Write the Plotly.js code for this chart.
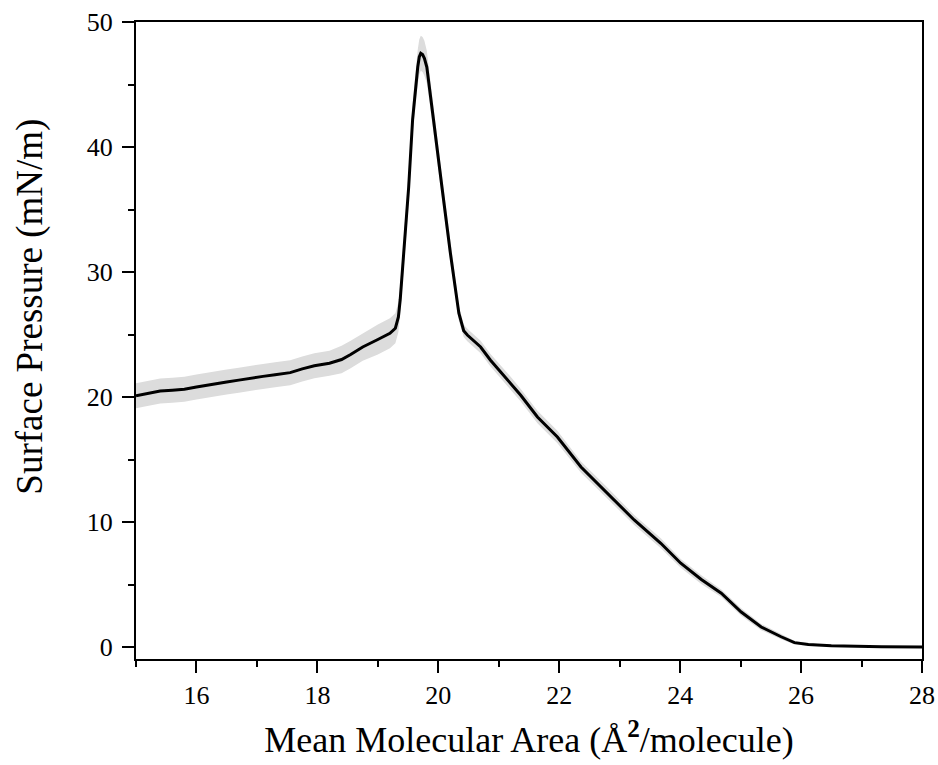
<!DOCTYPE html>
<html>
<head>
<meta charset="utf-8">
<script src="https://cdn.plot.ly/plotly-3.0.1.min.js"></script>
<style>html,body{margin:0;padding:0;background:#fff;}#chart{width:938px;height:765px;}</style>
</head>
<body>
<div id="chart"></div>
<script>
// Mean molecular area (Å²/molecule)
var area = [15.00, 15.20, 15.40, 15.60, 15.80, 16.00, 16.20, 16.50, 16.70, 16.90,
            17.10, 17.30, 17.55, 17.75, 17.95, 18.20, 18.40, 18.55, 18.75, 19.00,
            19.20, 19.29, 19.34, 19.37, 19.43, 19.51, 19.575, 19.62, 19.66, 19.685,
            19.71, 19.74, 19.77, 19.81, 19.86, 19.92, 20.06, 20.20, 20.34, 20.42,
            20.48, 20.70, 20.86, 21.20, 21.36, 21.64, 21.97, 22.36, 22.80, 23.24,
            23.68, 24.01, 24.35, 24.68, 25.01, 25.34, 25.67, 25.89, 26.12, 26.50,
            27.33, 28.00];
// Surface pressure (mN/m), mean curve
var pressure = [20.10, 20.30, 20.48, 20.55, 20.62, 20.80, 20.98, 21.20, 21.35, 21.52,
                21.65, 21.78, 21.95, 22.25, 22.50, 22.70, 23.00, 23.40, 24.00, 24.60,
                25.10, 25.50, 26.40, 27.80, 31.50, 36.80, 42.20, 44.80, 46.40, 47.20,
                47.50, 47.40, 47.10, 46.40, 44.60, 42.20, 36.80, 31.50, 26.70, 25.30,
                24.96, 24.00, 22.96, 21.10, 20.16, 18.40, 16.80, 14.40, 12.30, 10.16,
                8.30, 6.70, 5.40, 4.30, 2.80, 1.60, 0.82, 0.35, 0.20, 0.10,
                0.03, 0.00];
// Standard deviation (mN/m)
var pressureErr = [1.0, 1.0, 1.0, 1.0, 1.0, 1.0, 1.0, 1.0, 1.0, 1.0,
                   1.0, 1.0, 1.0, 1.0, 1.0, 1.0, 1.1, 1.1, 1.1, 1.2,
                   1.2, 1.2, 1.2, 1.2, 1.3, 1.3, 1.3, 1.3, 1.4, 1.4,
                   1.4, 1.4, 1.4, 1.3, 1.2, 1.0, 0.9, 0.8, 0.6, 0.5,
                   0.5, 0.5, 0.5, 0.5, 0.5, 0.5, 0.5, 0.45, 0.45, 0.4,
                   0.4, 0.35, 0.35, 0.3, 0.3, 0.25, 0.2, 0.15, 0.1, 0.05,
                   0.03, 0.02];

var xTitle = 'Mean Molecular Area (Å<sup><b>2</b></sup>/molecule)';
var yTitle = 'Surface Pressure (mN/m)';

var upper = pressure.map(function(v, i){ return v + pressureErr[i]; });
var lower = pressure.map(function(v, i){ return v - pressureErr[i]; });

var serif = '"Liberation Serif", "Times New Roman", serif';

var traces = [
  {x: area, y: lower, mode: 'lines', line: {width: 0, color: 'rgba(0,0,0,0)'},
   hoverinfo: 'skip', showlegend: false},
  {x: area, y: upper, mode: 'lines', line: {width: 0, color: 'rgba(0,0,0,0)'},
   fill: 'tonexty', fillcolor: '#dcdcdc', hoverinfo: 'skip', showlegend: false},
  {x: area, y: pressure, mode: 'lines', line: {color: '#000000', width: 3},
   showlegend: false}
];

var layout = {
  width: 938, height: 765,
  margin: {l: 136, r: 16, t: 22, b: 106},
  paper_bgcolor: '#ffffff', plot_bgcolor: '#ffffff',
  showlegend: false,
  font: {family: serif, color: '#000000', size: 26},
  xaxis: {
    range: [15, 28], dtick: 2, tick0: 16,
    ticks: 'outside', ticklen: 12, tickwidth: 2, tickcolor: '#000',
    showline: true, linewidth: 2, linecolor: '#000', mirror: true,
    showgrid: false, zeroline: false,
    tickfont: {family: serif, size: 26, color: '#000'},
    minor: {dtick: 1, ticks: 'outside', ticklen: 6, tickwidth: 2, tickcolor: '#000', showgrid: false},
    title: {text: xTitle, font: {family: serif, size: 36, color: '#000'}, standoff: 18}
  },
  yaxis: {
    range: [-0.96, 50], dtick: 10, tick0: 0,
    ticks: 'outside', ticklen: 12, tickwidth: 2, tickcolor: '#000',
    showline: true, linewidth: 2, linecolor: '#000', mirror: true,
    showgrid: false, zeroline: false,
    tickfont: {family: serif, size: 26, color: '#000'},
    ticklabelstandoff: 4,
    minor: {dtick: 5, ticks: 'outside', ticklen: 6, tickwidth: 2, tickcolor: '#000', showgrid: false}
  },
  annotations: [{
    text: yTitle, textangle: -90, showarrow: false,
    xref: 'paper', yref: 'paper', x: -0.135, y: 0.553,
    xanchor: 'center', yanchor: 'middle',
    font: {family: serif, size: 37, color: '#000'}
  }]
};

Plotly.newPlot('chart', traces, layout, {displayModeBar: false, staticPlot: true});
</script>
</body>
</html>
